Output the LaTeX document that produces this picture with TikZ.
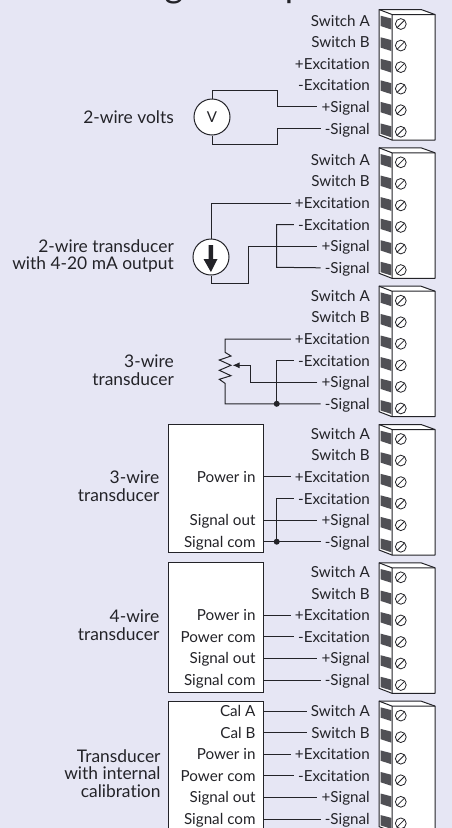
\documentclass[tikz,border=0pt]{standalone}
\usepackage{fontspec}
\setmainfont[Ligatures=NoCommon]{Lato}
\usetikzlibrary{arrows.meta}
\definecolor{bg}{RGB}{230,230,244}
\definecolor{ink}{RGB}{35,35,40}
\definecolor{strip}{RGB}{80,80,85}
\tikzset{
  lab/.style={anchor=east,inner xsep=4pt,inner ysep=0pt,text height=12pt,text depth=1pt,font=\fontsize{15.2}{17}\selectfont,text=ink},
  rowlab/.style={lab,inner xsep=8.5pt},
  side/.style={anchor=east,align=right,inner sep=0pt,font=\fontsize{17.4}{17.6}\selectfont,text=ink},
  wire/.style={draw=ink,line width=1pt},
  meter/.style={circle,draw=ink,fill=white,line width=1pt,minimum size=36pt,inner sep=0pt},
  devbox/.style={draw=ink,fill=white,line width=1pt},
  blockline/.style={draw=ink,fill=white,line width=1pt,line join=round},
  dot/.style={circle,fill=ink,minimum size=6pt,inner sep=0pt},
}
% #1 id, #2 block top, #3 first wire y
\newcommand{\tblock}[3]{%
  \path[blockline] (379,#2) -- (421,#2) -- (435,#2+5) -- (435,#2+130.5) -- (392,#2+130.5) -- (379,#2+125.5) -- cycle;
  \draw[ink,line width=1pt] (379,#2) -- (392,#2+5) -- (435,#2+5) (392,#2+5) -- (392,#2+130.5);
  \foreach \k [count=\n from 1] in {Switch A,Switch B,+Excitation,-Excitation,+Signal,-Signal}{
    \pgfmathsetmacro{\off}{(\n-1)*21.55}
    \fill[strip] (380.5,#2+6.2+\off) -- (391.3,#2+9+\off) -- (391.3,#2+20+\off) -- (380.5,#2+16.5+\off) -- cycle;
    \draw[ink,line width=0.8pt,fill=white] (400.8,#2+14.5+\off) circle[radius=5.4];
    \draw[ink,line width=0.8pt] (397,#2+18.3+\off) -- (404.6,#2+10.7+\off);
    \pgfmathsetmacro{\ly}{#3+(\n-1)*21.6}
    \node[lab] (#1l\n) at (374,\ly) {\k};
  }%
}
\begin{document}
\begin{tikzpicture}[x=1pt,y=-1pt]
\useasboundingbox[fill=bg] (0,0) rectangle (452,828);
% title fragments cut by the top edge
\node[anchor=base,inner sep=0pt,font=\fontsize{36}{36}\selectfont,text=ink] (titleg) at (174,-3) {g};
\node[anchor=base,inner sep=0pt,font=\fontsize{36}{36}\selectfont,text=ink] (titlep) at (295,-3) {p};

\tblock{a}{9.5}{20.5}
\tblock{b}{147.8}{159.8}
\tblock{c}{286.2}{295.8}
\tblock{d}{424.5}{433.7}
\tblock{e}{562.8}{572}
\tblock{f}{701.1}{711}

% 1: 2-wire volts
\node[side] (ta) at (174,117.5) {2-wire volts};
\node[meter] (va) at (212,117) {\fontsize{15}{15}\selectfont\color{ink}V};
\coordinate (a1) at (277,90.5);
\coordinate (a2) at (277,144.5);
\draw[wire] (va.north) |- (a1) |- (al5.west);
\draw[wire] (va.south) |- (a2) |- (al6.west);

% 2: 2-wire transducer
\node[side] (tb) at (174,256) {2-wire transducer\\with 4-20 mA output};
\node[meter] (vb) at (211,257) {};
\fill[ink] (208.6,245) -- (213.2,245) -- (213.2,259) -- (217.5,259) -- (210.9,272) -- (203.5,259) -- (208.6,259) -- cycle;
\coordinate (b1) at (248.3,283);
\coordinate (b2) at (276.7,267.3);
\draw[wire] (vb.north) |- (bl3.west);
\draw[wire] (vb.south) |- (b1) |- (bl5.west);
\draw[wire] (bl4.west) -| (b2) -- (bl6.west);

% 3: pot
\node[side] (tc) at (174,370.5) {3-wire\\transducer};
\coordinate (pt) at (225,352.3);
\coordinate (pb) at (225,383.3);
\coordinate (ptip) at (232.5,365.3);
\coordinate (pk) at (250.7,365.3);
\node[dot] (cd) at (276.7,403.8) {};
\draw[wire,line join=miter] (cl3.west) -| (pt) -- (231,356) -- (219.3,360) -- (231,365.3) -- (219.3,370.3) -- (231,375.7) -- (219.3,379.3) -- (pb) |- (cl6.west);
\draw[wire] (cl4.west) -| (cd.center);
\draw[wire,-{Latex[length=7pt,width=6pt]}] (cl5.west) -| (pk) -- (ptip);

% 4: 3-wire transducer box
\node[devbox,minimum width=95.7pt,minimum height=128.5pt,inner sep=0pt] (bd) at (215.85,488.5) {};
\node[side] (td) at (159.5,486.5) {3-wire\\transducer};
\node[rowlab] (dp) at (bd.east |- dl3.west) {Power in};
\node[rowlab] (ds) at (bd.east |- dl5.west) {Signal out};
\node[rowlab] (dc) at (bd.east |- dl6.west) {Signal com};
\node[dot] (dd) at (276.7,541.7) {};
\draw[wire] (dp.east) -- (dl3.west);
\draw[wire] (ds.east) -- (dl5.west);
\draw[wire] (dc.east) -- (dl6.west);
\draw[wire] (dl4.west) -| (dd.center);

% 5: 4-wire transducer box
\node[devbox,minimum width=95.7pt,minimum height=129.5pt,inner sep=0pt] (be) at (215.85,627.4) {};
\node[side] (te) at (159.5,625) {4-wire\\transducer};
\node[rowlab] (ep) at (be.east |- el3.west) {Power in};
\node[rowlab] (eq) at (be.east |- el4.west) {Power com};
\node[rowlab] (es) at (be.east |- el5.west) {Signal out};
\node[rowlab] (ec) at (be.east |- el6.west) {Signal com};
\draw[wire] (ep.east) -- (el3.west);
\draw[wire] (eq.east) -- (el4.west);
\draw[wire] (es.east) -- (el5.west);
\draw[wire] (ec.east) -- (el6.west);

% 6: transducer with internal calibration
\node[devbox,minimum width=95.7pt,minimum height=140pt,inner sep=0pt] (bf) at (215.85,771.3) {};
\node[side] (tf) at (160.7,773.5) {Transducer\\with internal\\calibration};
\node[rowlab] (fa) at (bf.east |- fl1.west) {Cal A};
\node[rowlab] (fb) at (bf.east |- fl2.west) {Cal B};
\node[rowlab] (fp) at (bf.east |- fl3.west) {Power in};
\node[rowlab] (fq) at (bf.east |- fl4.west) {Power com};
\node[rowlab] (fs) at (bf.east |- fl5.west) {Signal out};
\node[rowlab] (fc) at (bf.east |- fl6.west) {Signal com};
\draw[wire] (fa.east) -- (fl1.west);
\draw[wire] (fb.east) -- (fl2.west);
\draw[wire] (fp.east) -- (fl3.west);
\draw[wire] (fq.east) -- (fl4.west);
\draw[wire] (fs.east) -- (fl5.west);
\draw[wire] (fc.east) -- (fl6.west);
\end{tikzpicture}
\end{document}
